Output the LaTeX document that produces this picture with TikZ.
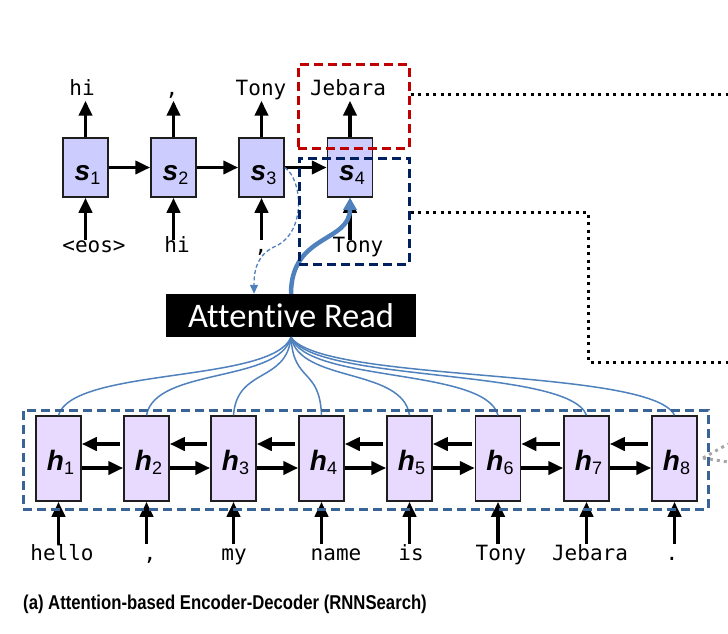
\documentclass[tikz,border=0pt]{standalone}
\usepackage{fontspec}
\setmainfont{Liberation Sans}
\newfontfamily\monof{DejaVu Sans Mono}
\newfontfamily\calib[Ligatures=NoCommon]{Carlito}
\usetikzlibrary{arrows.meta}
\definecolor{decfill}{HTML}{CCCCFF}
\definecolor{encfill}{HTML}{E8DAFF}
\definecolor{boxline}{HTML}{1E1E1E}
\definecolor{attblue}{HTML}{4F81BD}
\definecolor{encdash}{HTML}{3B6496}
\definecolor{navyc}{HTML}{002060}
\definecolor{redc}{HTML}{C00000}
\definecolor{dotgray}{HTML}{A6A6A6}
\newcommand{\mylab}[2]{{\fontsize{28}{30}\selectfont\bfseries\itshape #1}\raisebox{-4pt}{\fontsize{18}{20}\selectfont #2}}
\tikzset{
  dbox/.style={draw=boxline, fill=decfill, line width=1.5pt, minimum width=45pt, minimum height=59pt, inner sep=0pt},
  ebox/.style={draw=boxline, fill=encfill, line width=1.5pt, minimum width=45pt, minimum height=85pt, inner sep=0pt},
  tok/.style={font=\monof\fontsize{21}{24}\selectfont, inner sep=0pt, text height=15.75pt, text depth=5.25pt},
  arr/.style={line width=3.8pt, -{Triangle[length=15pt,width=13pt]}},
  dashbox/.style={line width=3pt, dash pattern=on 9pt off 5pt, minimum width=#1, inner sep=0pt},
  dotline/.style={line width=3pt, dash pattern=on 3pt off 4.5pt},
  fan/.style={draw=attblue, line width=1.5pt},
}
\begin{document}
\begin{tikzpicture}[x=1pt,y=-1pt]
\useasboundingbox (0,0) rectangle (728,634);

% ---------------- decoder ----------------
\foreach \i/\x in {1/85.5,2/173.5,3/261.5,4/350}{
  \node[dbox] (s\i) at (\x,167.5) {};
  \node[anchor=base, inner sep=0pt] (sl\i) at ([xshift=2pt,yshift=-12.5pt]s\i.center) {\mylab{s}{\i}};
}
% output tokens
\node[tok] (o1) at (82,90) {hi};
\node[tok] (o2) at (172,90) {,};
\node[tok] (o3) at (261,90) {Tony};
\node[tok] (o4) at (348,90) {Jebara};
% input tokens
\node[tok] (i1) at (94,246.75) {<eos>};
\node[tok] (i2) at (177,246.75) {hi};
\node[tok] (i3) at (261,246.75) {,};
\node[tok] (i4) at (358,246.75) {Tony};

\foreach \i in {1,2,3,4}{
  \draw[arr] (s\i.north) -- (s\i.north |- o\i.south);
  \draw[arr, shorten <=-4pt] (s\i.south |- i\i.north) -- (s\i.south);
}
\draw[arr] (s1.east) -- (s2.west);
\draw[arr] (s2.east) -- (s3.west);
\draw[arr] (s3.east) -- (s4.west);

% ---------------- attentive read ----------------
\node[fill=black, text=white, minimum width=250pt, minimum height=43pt, inner sep=0pt,
      font=\calib\fontsize{34.5}{37}\selectfont] (ar) at (291,315.5) {Attentive Read};

% dashed thin arrow from s3 to attentive read
\coordinate (dv) at (276,246);
\draw[attblue, line width=1.3pt, dash pattern=on 4pt off 2.5pt, -{Triangle[length=9pt,width=8pt]}]
  (s3.east) .. controls (303,180) and (306,232) .. (dv)
            .. controls (258,254) and (254,268) .. ([xshift=-37pt]ar.north);
% thick arrow from attentive read to s4
\draw[attblue, line width=4.5pt, -{Triangle[length=12pt,width=13pt]}]
  (ar.north) .. controls +(0,-60) and +(0,45) .. (s4.south);

% ---------------- encoder ----------------
\foreach \i/\x in {1/58.5,2/146.5,3/233.5,4/321.5,5/409.5,6/498,7/586.5,8/674.5}{
  \node[ebox] (h\i) at (\x,458.5) {};
  \node[anchor=base, inner sep=0pt] (hl\i) at ([xshift=2pt,yshift=-11.5pt]h\i.center) {\mylab{h}{\i}};
}
\node[tok] (e1) at (62,554.75) {hello};
\node[tok] (e2) at (150,554.75) {,};
\node[tok] (e3) at (234,554.75) {my};
\node[tok] (e4) at (336,554.75) {name};
\node[tok] (e5) at (411,554.75) {is};
\node[tok] (e6) at (501,554.75) {Tony};
\node[tok] (e7) at (590,554.75) {Jebara};
\node[tok] (e8) at (672,554.75) {.};
\foreach \i in {1,...,8}{
  \draw[arr] (h\i.south |- e\i.north) -- (h\i.south);
}
\foreach \a/\b in {1/2,2/3,3/4,4/5,5/6,6/7,7/8}{
  \draw[arr] ([yshift=-9.5pt]h\a.east) -- ([yshift=-9.5pt]h\b.west);
  \draw[arr, shorten <=3pt] ([yshift=14.5pt]h\b.west) -- ([yshift=14.5pt]h\a.east);
}

% attention fan
\foreach \i/\p/\q in {1/-18.6/14,2/-11.6/8.7,3/-4.6/3.5,4/2.4/-1.8,5/9.5/-7.1,6/16.6/-12.4,7/23.6/-17.7,8/30.7/-23}{
  \draw[fan] (ar.south) .. controls +(\p,46) and +(\q,-48) .. (h\i.north);
}

% encoder dashed frame
\node[draw=encdash, dashbox=685pt, minimum height=99pt] (enc) at (365.5,459.5) {};

% gray dotted continuation
\coordinate (g0) at (703,458);
\coordinate (g1) at (728,444);
\coordinate (g2) at (728,462);
\draw[dotgray, line width=3pt, dash pattern=on 3pt off 4pt] (g0) -- (g1);
\draw[dotgray, line width=3pt, dash pattern=on 3pt off 4pt] (g0) -- (g2);

% ---------------- highlight boxes ----------------
\node[draw=redc, dashbox=111pt, minimum height=83pt] (rb) at (353.5,106.5) {};
\node[draw=navyc, dashbox=110pt, minimum height=106pt] (bb) at (354,211) {};

\coordinate (r1) at (728,94);
\draw[dotline] ([yshift=12.5pt]rb.east) -- (r1);
\coordinate (b1) at (588,212);
\coordinate (b2) at (588,362);
\coordinate (b3) at (728,362);
\draw[dotline] ([yshift=-1pt]bb.east) -- (b1) -- (b2) -- (b3);

% ---------------- caption ----------------
\node[anchor=base west, inner sep=0pt] (cap) at (23,609)
  {\scalebox{0.835}[1]{\fontsize{20}{22}\selectfont\bfseries (a) Attention-based Encoder-Decoder (RNNSearch)}};
\end{tikzpicture}
\end{document}
